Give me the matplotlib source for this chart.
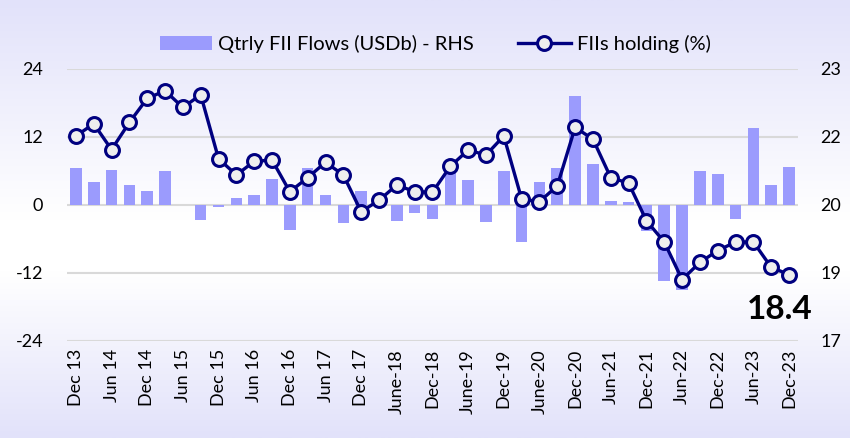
import numpy as np
import matplotlib
matplotlib.use("Agg")
import matplotlib.pyplot as plt
from matplotlib.colors import LinearSegmentedColormap

plt.rcParams["font.family"] = ["Lato", "DejaVu Sans"]
plt.rcParams["axes.unicode_minus"] = False

tick_labels = ["Dec 13", "Jun 14", "Dec 14", "Jun 15", "Dec 15", "Jun 16", "Dec 16",
               "Jun 17", "Dec 17", "June-18", "Dec-18", "June-19", "Dec-19", "June-20",
               "Dec-20", "Jun-21", "Dec-21", "Jun-22", "Dec-22", "Jun-23", "Dec-23"]

# quarterly FII flows, USD bn (plotted on the left scale)
fii_flows = [6.5, 4.1, 6.2, 3.5, 2.4, 6.0, 0.0, -2.6, -0.4, 1.2, 1.8, 4.5, -4.5,
             6.5, 1.8, -3.2, 2.5, 0.0, -2.8, -1.4, -2.5, 5.9, 4.4, -3.1, 6.0,
             -6.6, 4.1, 6.5, 19.2, 7.3, 0.7, 0.5, -4.7, -13.5, -15.0, 6.0, 5.5,
             -2.5, 13.6, 3.5, 6.6]

# FII holding, % (right scale)
fii_holding = [21.52, 21.79, 21.22, 21.82, 22.35, 22.52, 22.15, 22.43, 21.02, 20.66,
               20.96, 20.99, 20.29, 20.60, 20.94, 20.66, 19.85, 20.10, 20.44, 20.29,
               20.28, 20.85, 21.21, 21.10, 21.52, 20.13, 20.07, 20.42, 21.71, 21.45,
               20.60, 20.48, 19.65, 19.18, 18.35, 18.73, 18.99, 19.18, 19.18, 18.62,
               18.46]

left_ticks = [-24, -12, 0, 12, 24]
right_ticks = [17, 18.5, 20, 21.5, 23]
right_tick_labels = ["17", "19", "20", "22", "23"]

bar_color = "#9B9BFD"
line_color = "#000080"

fig = plt.figure(figsize=(8.5, 4.38), dpi=100)

# background gradient: lavender at top/bottom, white through the middle
bg = fig.add_axes([0, 0, 1, 1], zorder=-10)
cmap = LinearSegmentedColormap.from_list(
    "bg", [(0.0, "#E2E2FA"), (0.5, "#FFFFFF"), (0.62, "#FFFFFF"), (1.0, "#E2E2FA")])
bg.imshow(np.linspace(0, 1, 256).reshape(-1, 1), aspect="auto", cmap=cmap,
          extent=[0, 1, 0, 1])
bg.axis("off")

ax = fig.add_axes([0.0788, 0.2221, 0.86, 0.6204])
ax.patch.set_alpha(0)
x = np.arange(len(fii_flows))
bars = ax.bar(x, fii_flows, width=0.65, color=bar_color, zorder=2)
ax.set_ylim(-24, 24)
ax.set_yticks(left_ticks)
ax.set_xlim(-0.5, len(fii_flows) - 0.5)
ax.set_xticks(x[::2])
ax.set_xticklabels(tick_labels, rotation=90, fontsize=13)
ax.grid(axis="y", color="#D9D9D9", linewidth=1.5, zorder=0)
ax.tick_params(axis="both", length=0, labelsize=13, colors="black")
ax.tick_params(axis="y", pad=17)
ax.tick_params(axis="x", pad=6)
for s in ax.spines.values():
    s.set_visible(False)

ax2 = ax.twinx()
line, = ax2.plot(x, fii_holding, color=line_color, linewidth=2.4, marker="o",
                 markersize=10, markerfacecolor="#EEEEEE", markeredgecolor=line_color,
                 markeredgewidth=2.2, zorder=3)
ax2.set_ylim(17, 23)
ax2.set_yticks(right_ticks)
ax2.set_yticklabels(right_tick_labels)
ax2.tick_params(axis="y", length=0, labelsize=13, pad=16)
for s in ax2.spines.values():
    s.set_visible(False)

ax2.text(len(fii_flows) - 1.5, 17.68, "18.4", fontsize=24, fontweight="bold",
         ha="center", va="center")

fig.legend([bars, line], ["Qtrly FII Flows (USDb) - RHS", "FIIs holding (%)"],
           loc="center", bbox_to_anchor=(0.512, 0.9), ncol=2, frameon=False,
           fontsize=14.5, handlelength=2.6, handletextpad=0.3, columnspacing=2.2)

fig.savefig("out.png", dpi=100)
